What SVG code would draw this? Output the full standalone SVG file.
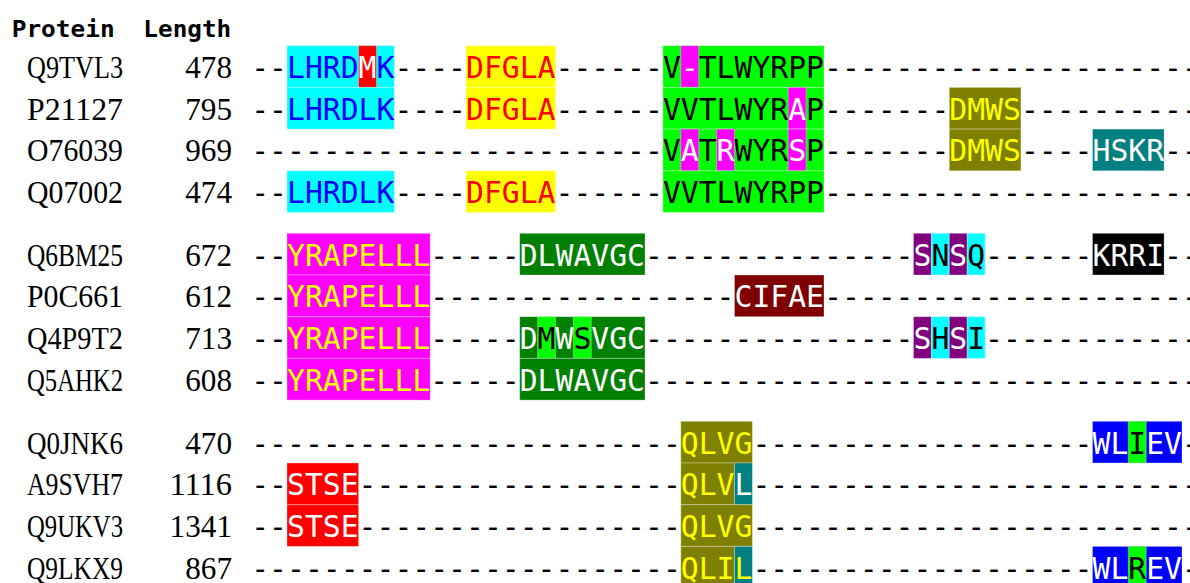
<svg xmlns="http://www.w3.org/2000/svg" width="1190" height="583" viewBox="0 0 1190 583">
<style>
.hdr{font-family:"DejaVu Sans Mono",monospace;font-weight:bold;font-size:23px;fill:#000}
.nm{font-family:"Liberation Serif",serif;font-size:32px;fill:#000}
.seq{font-family:"DejaVu Sans Mono",monospace;font-size:31px;fill:#000}
.b{fill:#0000ff}.r{fill:#ff0000}.w{fill:#ffffff}.y{fill:#ffff00}
rect{stroke:#ffffff;stroke-opacity:0.3;stroke-width:1}
.cy{fill:#00ffff}.rd{fill:#ff0000}.ye{fill:#ffff00}.li{fill:#00ff00}.mg{fill:#ff00ff}.ol{fill:#808000}.te{fill:#008080}.dg{fill:#008000}.ma{fill:#800000}.pu{fill:#800080}.bk{fill:#000000}.bl{fill:#0000ff}
</style>
<rect width="1190" height="583" fill="#ffffff" stroke="none"/>
<g id="header">
<text class="hdr" x="11.7" y="36.7" textLength="103" lengthAdjust="spacingAndGlyphs">Protein</text>
<text class="hdr" x="143.3" y="36.7" textLength="88" lengthAdjust="spacingAndGlyphs">Length</text>
</g>
<g id="connectors"></g>
<g id="row-Q9TVL3">
<rect class="cy" x="287" y="45.7" width="107.4" height="41.7"/>
<rect class="rd" x="358.6" y="45.7" width="17.9" height="41.7"/>
<rect class="ye" x="466" y="45.7" width="89.5" height="41.7"/>
<rect class="li" x="662.9" y="45.7" width="161.1" height="41.7"/>
<rect class="mg" x="680.8" y="45.7" width="17.9" height="41.7"/>
<text class="nm" x="27" y="78" textLength="96" lengthAdjust="spacingAndGlyphs">Q9TVL3</text>
<text class="nm" x="185.2" y="78" textLength="46.8" lengthAdjust="spacingAndGlyphs">478</text>
<text class="seq" x="251.2" y="78" textLength="966.6" lengthAdjust="spacingAndGlyphs">--<tspan class="b">LHRD</tspan><tspan class="w">M</tspan><tspan class="b">K</tspan>----<tspan class="r">DFGLA</tspan>------V<tspan class="w">-</tspan>TLWYRPP----------------------</text>
</g>
<g id="row-P21127">
<rect class="cy" x="287" y="87.4" width="107.4" height="41.7"/>
<rect class="ye" x="466" y="87.4" width="89.5" height="41.7"/>
<rect class="li" x="662.9" y="87.4" width="161.1" height="41.7"/>
<rect class="mg" x="788.2" y="87.4" width="17.9" height="41.7"/>
<rect class="ol" x="949.3" y="87.4" width="71.6" height="41.7"/>
<text class="nm" x="27" y="119.7" textLength="96" lengthAdjust="spacingAndGlyphs">P21127</text>
<text class="nm" x="185.2" y="119.7" textLength="46.8" lengthAdjust="spacingAndGlyphs">795</text>
<text class="seq" x="251.2" y="119.7" textLength="966.6" lengthAdjust="spacingAndGlyphs">--<tspan class="b">LHRDLK</tspan>----<tspan class="r">DFGLA</tspan>------VVTLWYR<tspan class="w">A</tspan>P-------<tspan class="y">DMWS</tspan>-----------</text>
</g>
<g id="row-O76039">
<rect class="li" x="662.9" y="129.1" width="161.1" height="41.7"/>
<rect class="mg" x="680.8" y="129.1" width="17.9" height="41.7"/>
<rect class="mg" x="716.6" y="129.1" width="17.9" height="41.7"/>
<rect class="mg" x="788.2" y="129.1" width="17.9" height="41.7"/>
<rect class="ol" x="949.3" y="129.1" width="71.6" height="41.7"/>
<rect class="te" x="1092.5" y="129.1" width="71.6" height="41.7"/>
<text class="nm" x="27" y="161.4" textLength="96" lengthAdjust="spacingAndGlyphs">O76039</text>
<text class="nm" x="185.2" y="161.4" textLength="46.8" lengthAdjust="spacingAndGlyphs">969</text>
<text class="seq" x="251.2" y="161.4" textLength="966.6" lengthAdjust="spacingAndGlyphs">-----------------------V<tspan class="w">A</tspan>T<tspan class="w">R</tspan>WYR<tspan class="w">S</tspan>P-------<tspan class="y">DMWS</tspan>----<tspan class="w">HSKR</tspan>---</text>
</g>
<g id="row-Q07002">
<rect class="cy" x="287" y="170.8" width="107.4" height="41.7"/>
<rect class="ye" x="466" y="170.8" width="89.5" height="41.7"/>
<rect class="li" x="662.9" y="170.8" width="161.1" height="41.7"/>
<text class="nm" x="27" y="203.1" textLength="96" lengthAdjust="spacingAndGlyphs">Q07002</text>
<text class="nm" x="185.2" y="203.1" textLength="46.8" lengthAdjust="spacingAndGlyphs">474</text>
<text class="seq" x="251.2" y="203.1" textLength="966.6" lengthAdjust="spacingAndGlyphs">--<tspan class="b">LHRDLK</tspan>----<tspan class="r">DFGLA</tspan>------VVTLWYRPP----------------------</text>
</g>
<g id="row-Q6BM25">
<rect class="mg" x="287" y="233.3" width="143.2" height="41.7"/>
<rect class="dg" x="519.7" y="233.3" width="125.3" height="41.7"/>
<rect class="pu" x="913.5" y="233.3" width="17.9" height="41.7"/>
<rect class="cy" x="931.4" y="233.3" width="17.9" height="41.7"/>
<rect class="pu" x="949.3" y="233.3" width="17.9" height="41.7"/>
<rect class="cy" x="967.2" y="233.3" width="17.9" height="41.7"/>
<rect class="bk" x="1092.5" y="233.3" width="71.6" height="41.7"/>
<text class="nm" x="27" y="265.6" textLength="96" lengthAdjust="spacingAndGlyphs">Q6BM25</text>
<text class="nm" x="185.2" y="265.6" textLength="46.8" lengthAdjust="spacingAndGlyphs">672</text>
<text class="seq" x="251.2" y="265.6" textLength="966.6" lengthAdjust="spacingAndGlyphs">--<tspan class="y">YRAPELLL</tspan>-----<tspan class="w">DLWAVGC</tspan>---------------<tspan class="w">S</tspan>N<tspan class="w">S</tspan>Q------<tspan class="w">KRRI</tspan>---</text>
</g>
<g id="row-P0C661">
<rect class="mg" x="287" y="275" width="143.2" height="41.7"/>
<rect class="ma" x="734.5" y="275" width="89.5" height="41.7"/>
<text class="nm" x="27" y="307.3" textLength="96" lengthAdjust="spacingAndGlyphs">P0C661</text>
<text class="nm" x="185.2" y="307.3" textLength="46.8" lengthAdjust="spacingAndGlyphs">612</text>
<text class="seq" x="251.2" y="307.3" textLength="966.6" lengthAdjust="spacingAndGlyphs">--<tspan class="y">YRAPELLL</tspan>-----------------<tspan class="w">CIFAE</tspan>----------------------</text>
</g>
<g id="row-Q4P9T2">
<rect class="mg" x="287" y="316.7" width="143.2" height="41.7"/>
<rect class="dg" x="519.7" y="316.7" width="125.3" height="41.7"/>
<rect class="li" x="537.6" y="316.7" width="17.9" height="41.7"/>
<rect class="li" x="573.4" y="316.7" width="17.9" height="41.7"/>
<rect class="pu" x="913.5" y="316.7" width="17.9" height="41.7"/>
<rect class="cy" x="931.4" y="316.7" width="17.9" height="41.7"/>
<rect class="pu" x="949.3" y="316.7" width="17.9" height="41.7"/>
<rect class="cy" x="967.2" y="316.7" width="17.9" height="41.7"/>
<text class="nm" x="27" y="349" textLength="96" lengthAdjust="spacingAndGlyphs">Q4P9T2</text>
<text class="nm" x="185.2" y="349" textLength="46.8" lengthAdjust="spacingAndGlyphs">713</text>
<text class="seq" x="251.2" y="349" textLength="966.6" lengthAdjust="spacingAndGlyphs">--<tspan class="y">YRAPELLL</tspan>-----<tspan class="w">D</tspan>M<tspan class="w">W</tspan>S<tspan class="w">VGC</tspan>---------------<tspan class="w">S</tspan>H<tspan class="w">S</tspan>I-------------</text>
</g>
<g id="row-Q5AHK2">
<rect class="mg" x="287" y="358.4" width="143.2" height="41.7"/>
<rect class="dg" x="519.7" y="358.4" width="125.3" height="41.7"/>
<text class="nm" x="27" y="390.7" textLength="96" lengthAdjust="spacingAndGlyphs">Q5AHK2</text>
<text class="nm" x="185.2" y="390.7" textLength="46.8" lengthAdjust="spacingAndGlyphs">608</text>
<text class="seq" x="251.2" y="390.7" textLength="966.6" lengthAdjust="spacingAndGlyphs">--<tspan class="y">YRAPELLL</tspan>-----<tspan class="w">DLWAVGC</tspan>--------------------------------</text>
</g>
<g id="row-Q0JNK6">
<rect class="ol" x="680.8" y="421.3" width="71.6" height="41.7"/>
<rect class="bl" x="1092.5" y="421.3" width="89.5" height="41.7"/>
<rect class="li" x="1128.3" y="421.3" width="17.9" height="41.7"/>
<text class="nm" x="27" y="453.6" textLength="96" lengthAdjust="spacingAndGlyphs">Q0JNK6</text>
<text class="nm" x="185.2" y="453.6" textLength="46.8" lengthAdjust="spacingAndGlyphs">470</text>
<text class="seq" x="251.2" y="453.6" textLength="966.6" lengthAdjust="spacingAndGlyphs">------------------------<tspan class="y">QLVG</tspan>-------------------<tspan class="w">WL</tspan>I<tspan class="w">EV</tspan>--</text>
</g>
<g id="row-A9SVH7">
<rect class="rd" x="287" y="463" width="71.6" height="41.7"/>
<rect class="ol" x="680.8" y="463" width="53.7" height="41.7"/>
<rect class="te" x="734.5" y="463" width="17.9" height="41.7"/>
<text class="nm" x="27" y="495.3" textLength="96" lengthAdjust="spacingAndGlyphs">A9SVH7</text>
<text class="nm" x="169.6" y="495.3" textLength="62.4" lengthAdjust="spacingAndGlyphs">1116</text>
<text class="seq" x="251.2" y="495.3" textLength="966.6" lengthAdjust="spacingAndGlyphs">--<tspan class="w">STSE</tspan>------------------<tspan class="y">QLV</tspan><tspan class="w">L</tspan>--------------------------</text>
</g>
<g id="row-Q9UKV3">
<rect class="rd" x="287" y="504.7" width="71.6" height="41.7"/>
<rect class="ol" x="680.8" y="504.7" width="71.6" height="41.7"/>
<text class="nm" x="27" y="537" textLength="96" lengthAdjust="spacingAndGlyphs">Q9UKV3</text>
<text class="nm" x="169.6" y="537" textLength="62.4" lengthAdjust="spacingAndGlyphs">1341</text>
<text class="seq" x="251.2" y="537" textLength="966.6" lengthAdjust="spacingAndGlyphs">--<tspan class="w">STSE</tspan>------------------<tspan class="y">QLVG</tspan>--------------------------</text>
</g>
<g id="row-Q9LKX9">
<rect class="ol" x="680.8" y="546.4" width="53.7" height="41.7"/>
<rect class="te" x="734.5" y="546.4" width="17.9" height="41.7"/>
<rect class="bl" x="1092.5" y="546.4" width="89.5" height="41.7"/>
<rect class="li" x="1128.3" y="546.4" width="17.9" height="41.7"/>
<text class="nm" x="27" y="578.7" textLength="96" lengthAdjust="spacingAndGlyphs">Q9LKX9</text>
<text class="nm" x="185.2" y="578.7" textLength="46.8" lengthAdjust="spacingAndGlyphs">867</text>
<text class="seq" x="251.2" y="578.7" textLength="966.6" lengthAdjust="spacingAndGlyphs">------------------------<tspan class="y">QLIL</tspan>-------------------<tspan class="w">WL</tspan>R<tspan class="w">EV</tspan>--</text>
</g>
</svg>
